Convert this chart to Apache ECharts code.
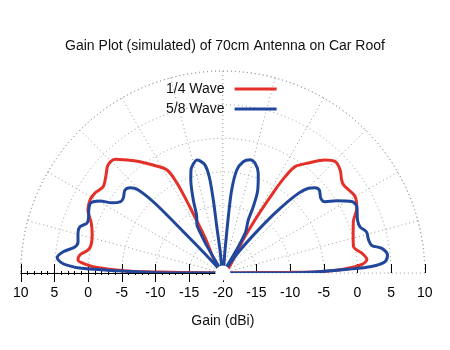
<!DOCTYPE html>
<html>
<head>
<meta charset="utf-8">
<script src="https://cdn.jsdelivr.net/npm/echarts@6/dist/echarts.min.js"></script>
<style>
  html, body { margin: 0; padding: 0; background: #fff; }
  #chart { width: 450px; height: 350px; }
</style>
</head>
<body>
<div id="chart"></div>
<script>
// Elevation angle in degrees: 0 = horizon on the right, 90 = zenith, 180 = horizon on the left.
// Each point is [gain in dBi, angle in degrees].
const quarterWave = [
  [-20, 0], [-9.8, 0.6], [-5.6, 0.8], [-2.1, 1.8], [0.7, 3.5], [1.5, 5.4], [0.9, 8.0],
  [-0.2, 11.4], [0.1, 15.6], [0.8, 21.3], [2.1, 25.8], [2.7, 30.0], [2.4, 33.5], [2.2, 36.1],
  [2.4, 38.0], [3.2, 41.3], [3.5, 44.8], [2.6, 47.9], [0.7, 52.1], [-0.9, 55.8], [-3.0, 57.1],
  [-5.4, 57.8], [-9.7, 58.6], [-13.7, 58.8], [-20, 59.0],
  [-20, 116.8], [-14, 116.6], [-9, 116.5], [-5, 117.0], [-2.6, 118.4], [-0.9, 122.9],
  [0.6, 126.7], [2.0, 130.3], [3.3, 133.5], [3.4, 136.8], [2.5, 140.6], [1.9, 144.3],
  [2.4, 148.0], [2.5, 151.2], [2.1, 155.0], [0.9, 159.2], [0.2, 163.8], [0.0, 168.0],
  [0.3, 170.3], [1.4, 172.8], [1.6, 174.9], [0.5, 176.3], [-1.3, 177.5], [-5.2, 178.7],
  [-9.2, 179.1], [-20, 180]
];

const fiveEighthsWave = [
  [-20, 0], [-9.8, 0.2], [-5.8, 0.8], [-1.4, 1.7], [2.1, 2.5], [4.15, 4.0], [4.6, 6.2],
  [3.9, 8.8], [2.5, 10.5], [2.2, 12.8], [2.2, 15.9], [1.5, 18.6], [1.5, 21.5], [2.2, 26.3],
  [1.9, 29.0], [0.0, 32.4], [-1.5, 34.9], [-1.7, 37.3], [-1.1, 40.7], [-1.35, 42.8],
  [-2.1, 44.7], [-3.7, 46.5], [-7.5, 48.6], [-11.7, 50.5], [-16, 53.0], [-20, 56.0],
  [-15.5, 59.5], [-13.2, 60.8], [-12.7, 61.5], [-11.3, 64.3], [-9.2, 65.3], [-6.6, 67.2],
  [-4.3, 70.4], [-3.0, 73.6], [-2.7, 76.5], [-3.2, 79.6], [-4.6, 82.3], [-7.6, 83.9],
  [-11.6, 84.4], [-16.5, 84.5], [-20, 85.0],
  [-20, 96.5], [-16.6, 96.9], [-13.1, 97.4], [-9.1, 97.4], [-5.6, 98.0], [-3.7, 99.4],
  [-3.0, 101.5], [-2.8, 102.9], [-3.1, 104.7], [-4.0, 107.2], [-5.4, 109.0], [-8.3, 112.0],
  [-10.8, 114.9], [-11.8, 118.0], [-13.2, 119.2], [-15.5, 120.5], [-20, 121.5],
  [-20, 130.0], [-16, 133.0], [-11.9, 133.6], [-5.6, 134.2], [-2.4, 135.5], [-1.3, 137.4],
  [-0.95, 139.7], [-1.5, 143.0], [-1.5, 145.0], [-0.5, 147.7], [1.15, 149.6], [2.2, 152.0],
  [2.0, 154.8], [1.55, 157.7], [1.5, 159.9], [2.3, 162.1], [2.3, 164.7], [2.0, 167.8],
  [2.3, 170.0], [3.9, 172.4], [4.7, 174.7], [4.2, 176.1], [3.2, 177.1], [1.0, 178.1],
  [-4.1, 178.8], [-10.2, 179.7], [-20, 180]
];

const seriesNames = ['1/4 Wave', '5/8 Wave'];
const seriesColors = ['#e5302a', '#21479c'];

// Gain scale (dBi): the pole is the minimum, the outer ring the maximum.
const gainMin = -20;
const gainMax = 10;
const gainStep = 5;
const angleStep = 15;

const FONT = '"Liberation Sans", Arial, sans-serif';
const CX = 222.8, CY = 273, R = 202;
const gridDots = { type: [1, 3], color: '#9a9a9a', width: 1 };

const chart = echarts.init(document.getElementById('chart'), null, { renderer: 'canvas' });

const hiddenY = (gridIndex) => ({ gridIndex, show: false, type: 'value', min: 0, max: 1 });

chart.setOption({
  animation: false,
  backgroundColor: '#fff',
  textStyle: { fontFamily: FONT },
  title: {
    text: 'Gain Plot (simulated) of 70cm Antenna on Car Roof',
    left: 'center',
    top: 39,
    padding: 0,
    textStyle: { fontFamily: FONT, fontSize: 14, fontWeight: 'normal', color: '#111' }
  },
  legend: {
    data: seriesNames,
    orient: 'vertical',
    left: 166,
    top: 82,
    align: 'right',
    icon: 'rect',
    itemWidth: 42,
    itemHeight: 3,
    itemGap: 6,
    padding: 0,
    textStyle: { fontFamily: FONT, fontSize: 14, color: '#111', padding: [0, 5, 0, 0] }
  },
  polar: { center: [CX, CY], radius: R },
  angleAxis: {
    type: 'value',
    min: 0,
    max: 180,
    interval: angleStep,
    startAngle: 0,
    endAngle: 180,
    clockwise: false,
    axisLine: { show: true, lineStyle: gridDots },
    axisTick: { show: false },
    axisLabel: { show: false },
    splitLine: { show: true, lineStyle: gridDots }
  },
  radiusAxis: {
    type: 'value',
    min: gainMin,
    max: gainMax,
    interval: gainStep,
    axisLine: { show: false },
    axisTick: { show: false },
    axisLabel: { show: false },
    splitLine: { show: true, lineStyle: gridDots }
  },
  grid: [
    { left: CX - R, width: R, top: 100, height: CY - 100 },
    { left: CX, width: R, top: 100, height: CY - 100 },
    { left: CX - R, width: 2 * R, top: 100, height: CY - 100 }
  ],
  xAxis: [
    {
      gridIndex: 0, position: 'bottom', type: 'value', min: gainMin, max: gainMax, interval: gainStep, inverse: true,
      axisLine: { show: true, lineStyle: { color: '#000', width: 1 } },
      axisTick: { show: true, length: 9, lineStyle: { color: '#000' } },
      minorTick: { show: true, splitNumber: 5, length: 2, lineStyle: { color: '#000' } },
      axisLabel: { show: true, margin: 13, fontSize: 14, color: '#000', fontFamily: FONT },
      splitLine: { show: false }
    },
    {
      gridIndex: 0, position: 'bottom', type: 'value', min: gainMin, max: gainMax, interval: gainStep, inverse: true,
      axisLine: { show: false },
      axisTick: { show: true, inside: true, length: 9, lineStyle: { color: '#000' } },
      minorTick: { show: true, splitNumber: 5, length: 2, lineStyle: { color: '#000' } },
      axisLabel: { show: false },
      splitLine: { show: false }
    },
    {
      gridIndex: 1, position: 'bottom', type: 'value', min: gainMin, max: gainMax, interval: gainStep,
      axisLine: { show: false },
      axisTick: { show: true, inside: true, length: 9, lineStyle: { color: '#000' } },
      axisLabel: { show: true, showMinLabel: false, margin: 13, fontSize: 14, color: '#000', fontFamily: FONT },
      splitLine: { show: false }
    },
    {
      gridIndex: 2, position: 'bottom', type: 'value', min: -1, max: 1,
      name: 'Gain (dBi)',
      nameLocation: 'middle',
      nameGap: 41,
      nameTextStyle: { fontSize: 14, color: '#111', fontFamily: FONT },
      axisLine: { show: false },
      axisTick: { show: false },
      axisLabel: { show: false },
      splitLine: { show: false }
    }
  ],
  yAxis: [hiddenY(0), hiddenY(1), hiddenY(2)],
  series: [
    {
      name: seriesNames[0],
      type: 'line',
      coordinateSystem: 'polar',
      data: quarterWave,
      showSymbol: false,
      smooth: 0.3,
      clip: false,
      lineStyle: { color: seriesColors[0], width: 3 },
      itemStyle: { color: seriesColors[0] },
      z: 3
    },
    {
      name: seriesNames[1],
      type: 'line',
      coordinateSystem: 'polar',
      data: fiveEighthsWave,
      showSymbol: false,
      smooth: 0.3,
      clip: false,
      lineStyle: { color: seriesColors[1], width: 3 },
      itemStyle: { color: seriesColors[1] },
      z: 4
    },
    {
      // white cap over the pole where every trace meets
      type: 'scatter',
      coordinateSystem: 'polar',
      data: [[gainMin, 90]],
      symbolSize: 15,
      silent: true,
      itemStyle: { color: '#fff', opacity: 1 },
      emphasis: { disabled: true },
      z: 10
    }
  ]
});
</script>
</body>
</html>
